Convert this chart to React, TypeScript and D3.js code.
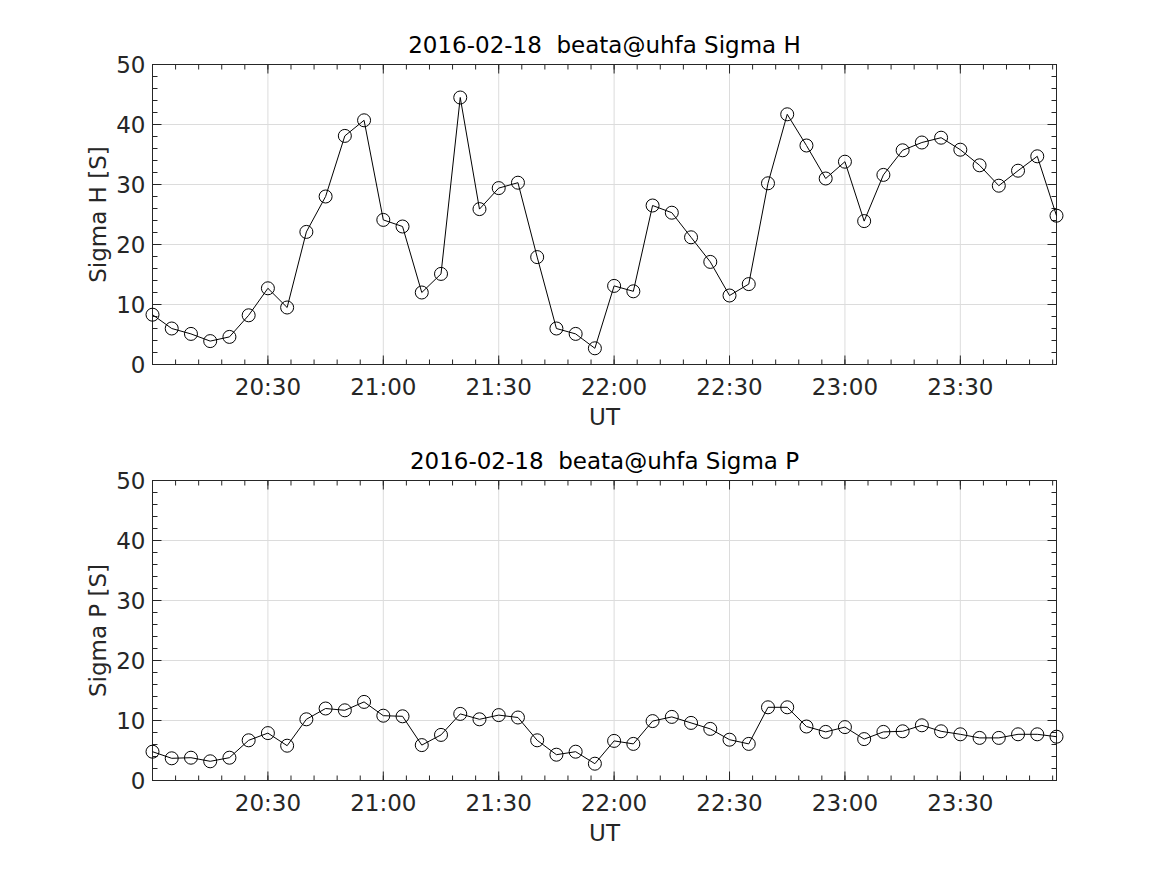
import React, { useEffect } from "react";
import * as d3 from "d3";

const times: string[] = [
  "20:00","20:05","20:10","20:15","20:20","20:25","20:30","20:35","20:40","20:45","20:50","20:55",
  "21:00","21:05","21:10","21:15","21:20","21:25","21:30","21:35","21:40","21:45","21:50","21:55",
  "22:00","22:05","22:10","22:15","22:20","22:25","22:30","22:35","22:40","22:45","22:50","22:55",
  "23:00","23:05","23:10","23:15","23:20","23:25","23:30","23:35","23:40","23:45","23:50","23:55",
];

const sigmaH: number[] = [
  8.3, 6.0, 5.1, 3.9, 4.6, 8.2, 12.7, 9.5, 22.1, 28.0, 38.1, 40.7,
  24.1, 23.0, 12.0, 15.1, 44.5, 25.9, 29.4, 30.3, 17.9, 6.0, 5.1, 2.7,
  13.1, 12.2, 26.5, 25.3, 21.2, 17.1, 11.5, 13.4, 30.2, 41.7, 36.5, 31.0,
  33.8, 23.9, 31.6, 35.7, 37.0, 37.8, 35.8, 33.2, 29.8, 32.3, 34.7, 24.8,
];

const sigmaP: number[] = [
  4.8, 3.7, 3.8, 3.2, 3.8, 6.7, 7.9, 5.8, 10.2, 12.0, 11.7, 13.1,
  10.8, 10.7, 5.9, 7.6, 11.1, 10.2, 10.9, 10.5, 6.7, 4.3, 4.8, 2.8,
  6.6, 6.1, 9.9, 10.6, 9.6, 8.6, 6.8, 6.1, 12.2, 12.2, 9.0, 8.1,
  8.9, 6.9, 8.1, 8.2, 9.2, 8.2, 7.7, 7.1, 7.1, 7.7, 7.7, 7.3,
];

const titles: string[] = [
  "2016-02-18  beata@uhfa Sigma H",
  "2016-02-18  beata@uhfa Sigma P",
];
const yLabels: string[] = ["Sigma H [S]", "Sigma P [S]"];
const xLabel = "UT";
const yDomain: [number, number] = [0, 50];
const yMajor: number[] = [0, 10, 20, 30, 40, 50];

const FONT = "'DejaVu Sans', sans-serif";
const FS = 23;
const AX = "#262626";

const parse = d3.timeParse("%H:%M");
const dates = times.map((t) => parse(t) as Date);

const W = 1167;
const H = 875;
const left = 152.5;
const right = 1056.5;
const panelTops = [64.5, 480.5];
const panelH = 300;

function Panel({ idx, values }: { idx: number; values: number[] }) {
  const top = panelTops[idx];
  const bottom = top + panelH;
  const x = d3.scaleTime().domain(d3.extent(dates) as [Date, Date]).range([left, right]);
  const y = d3.scaleLinear().domain(yDomain).range([bottom, top]);
  const [d0, d1] = x.domain();
  const xMajor = d3.timeMinute.every(30)!.range(d0, new Date(+d1 + 1)).filter((d) => +d > +d0);
  const xMinor = d3.timeMinute.every(6)!.range(d0, new Date(+d1 + 1)).filter((d) => +d > +d0);
  const yMinor = d3.range(0, 50.01, 2);
  const fmt = d3.timeFormat("%H:%M");
  const line = d3
    .line<number>()
    .x((_, i) => x(dates[i]))
    .y((v) => y(v));
  const majLen = 9;
  const minLen = 5;
  return (
    <g>
      {xMajor.map((d, i) => (
        <line key={"gx" + i} x1={x(d)} x2={x(d)} y1={top} y2={bottom} stroke="#dcdcdc" strokeWidth={1} />
      ))}
      {yMajor.map((v, i) => (
        <line key={"gy" + i} x1={left} x2={right} y1={y(v)} y2={y(v)} stroke="#dcdcdc" strokeWidth={1} />
      ))}
      {xMinor.map((d, i) => (
        <g key={"mx" + i}>
          <line x1={x(d)} x2={x(d)} y1={bottom} y2={bottom - minLen} stroke={AX} />
          <line x1={x(d)} x2={x(d)} y1={top} y2={top + minLen} stroke={AX} />
        </g>
      ))}
      {xMajor.map((d, i) => (
        <g key={"Mx" + i}>
          <line x1={x(d)} x2={x(d)} y1={bottom} y2={bottom - majLen} stroke={AX} />
          <line x1={x(d)} x2={x(d)} y1={top} y2={top + majLen} stroke={AX} />
          <text
            x={x(d)}
            y={bottom + 30.5}
            textAnchor="middle"
            fontFamily={FONT}
            fontSize={FS}
            fill={AX}
          >
            {fmt(d)}
          </text>
        </g>
      ))}
      {yMinor.map((v, i) => (
        <g key={"my" + i}>
          <line x1={left} x2={left + minLen} y1={y(v)} y2={y(v)} stroke={AX} />
          <line x1={right} x2={right - minLen} y1={y(v)} y2={y(v)} stroke={AX} />
        </g>
      ))}
      {yMajor.map((v, i) => (
        <g key={"My" + i}>
          <line x1={left} x2={left + majLen} y1={y(v)} y2={y(v)} stroke={AX} />
          <line x1={right} x2={right - majLen} y1={y(v)} y2={y(v)} stroke={AX} />
          <text
            x={left - 7}
            y={y(v)}
            dy="0.36em"
            textAnchor="end"
            fontFamily={FONT}
            fontSize={FS}
            fill={AX}
          >
            {v}
          </text>
        </g>
      ))}
      <rect x={left} y={top} width={right - left} height={panelH} fill="none" stroke={AX} strokeWidth={1} />
      <path d={line(values) || ""} fill="none" stroke="#000" strokeWidth={1} />
      {values.map((v, i) => (
        <circle key={"c" + i} cx={x(dates[i])} cy={y(v)} r={6.5} fill="none" stroke="#000" strokeWidth={1} />
      ))}
      <text
        x={(left + right) / 2}
        y={top - 11.5}
        textAnchor="middle"
        fontFamily={FONT}
        fontSize={FS}
        fill="#000"
        style={{ whiteSpace: "pre" }}
      >
        {titles[idx]}
      </text>
      <text
        x={(left + right) / 2}
        y={bottom + 60.5}
        textAnchor="middle"
        fontFamily={FONT}
        fontSize={FS}
        fill={AX}
      >
        {xLabel}
      </text>
      <text
        transform={`translate(105.5,${(top + bottom) / 2}) rotate(-90)`}
        textAnchor="middle"
        fontFamily={FONT}
        fontSize={FS}
        fill={AX}
      >
        {yLabels[idx]}
      </text>
    </g>
  );
}

export default function App() {
  useEffect(() => {
    document.body.style.margin = "0";
  }, []);
  return (
    <svg width={W} height={H} style={{ display: "block", background: "#fff" }}>
      <rect x={0} y={0} width={W} height={H} fill="#fff" />
      <Panel idx={0} values={sigmaH} />
      <Panel idx={1} values={sigmaP} />
    </svg>
  );
}
